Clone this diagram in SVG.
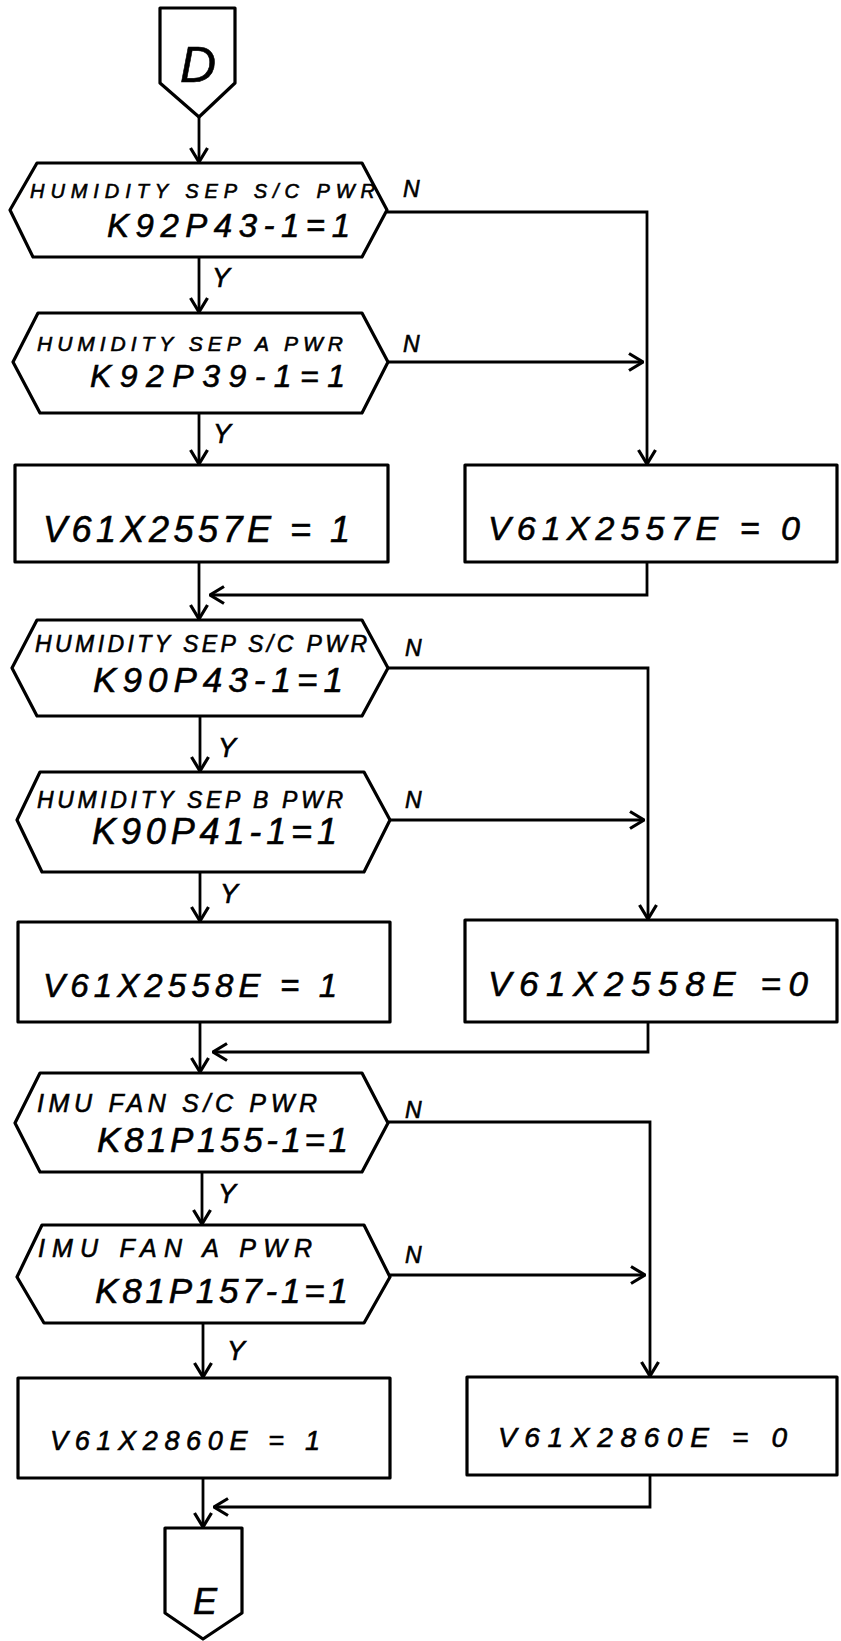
<svg xmlns="http://www.w3.org/2000/svg" width="841" height="1641" viewBox="0 0 841 1641">
<defs>
<style>
.shape{fill:#fff;stroke:#000;stroke-width:3.2;stroke-linejoin:round}
.conn{fill:none;stroke:#000;stroke-width:2.8;stroke-linejoin:miter}
.t{font-family:"Liberation Sans",Arial,sans-serif;font-style:italic;fill:#000;stroke:#000;stroke-width:0.6}
.lbl{font-size:27px}
</style>
<marker id="ah" viewBox="0 0 16 20" refX="15" refY="10" markerWidth="16" markerHeight="20" markerUnits="userSpaceOnUse" orient="auto">
<path d="M1,1.5 L15,10 L1,18.5" fill="none" stroke="#000" stroke-width="3.2"/>
</marker>
</defs>
<rect width="841" height="1641" fill="#fff"/>

<g id="connectors">
<path class="conn" d="M199,117 V162" marker-end="url(#ah)"/>
<path class="conn" d="M199,257 V312" marker-end="url(#ah)"/>
<path class="conn" d="M199,413 V464" marker-end="url(#ah)"/>
<path class="conn" d="M387,212 H647 V464" marker-end="url(#ah)"/>
<path class="conn" d="M388,362 H643" marker-end="url(#ah)"/>
<path class="conn" d="M199,562 V619" marker-end="url(#ah)"/>
<path class="conn" d="M647,562 V595 H210" marker-end="url(#ah)"/>
<path class="conn" d="M200,716 V771" marker-end="url(#ah)"/>
<path class="conn" d="M388,668 H648 V919" marker-end="url(#ah)"/>
<path class="conn" d="M390,820 H644" marker-end="url(#ah)"/>
<path class="conn" d="M200,872 V921" marker-end="url(#ah)"/>
<path class="conn" d="M200,1022 V1072" marker-end="url(#ah)"/>
<path class="conn" d="M648,1022 V1052 H213" marker-end="url(#ah)"/>
<path class="conn" d="M202,1172 V1224" marker-end="url(#ah)"/>
<path class="conn" d="M388,1122 H650 V1376" marker-end="url(#ah)"/>
<path class="conn" d="M390,1275 H645" marker-end="url(#ah)"/>
<path class="conn" d="M203,1323 V1377" marker-end="url(#ah)"/>
<path class="conn" d="M203,1478 V1527" marker-end="url(#ah)"/>
<path class="conn" d="M650,1475 V1507 H214" marker-end="url(#ah)"/>
<text class="t lbl" x="212" y="287">Y</text>
<text class="t lbl" x="213" y="443">Y</text>
<text class="t lbl" x="218" y="757">Y</text>
<text class="t lbl" x="220" y="903">Y</text>
<text class="t lbl" x="218" y="1203">Y</text>
<text class="t lbl" x="227" y="1360">Y</text>
<text class="t" x="403" y="197" font-size="23">N</text>
<text class="t" x="403" y="352" font-size="23">N</text>
<text class="t" x="405" y="656" font-size="23">N</text>
<text class="t" x="405" y="808" font-size="23">N</text>
<text class="t" x="405" y="1118" font-size="23">N</text>
<text class="t" x="405" y="1263" font-size="23">N</text>
</g>

<g id="start-D">
<polygon class="shape" points="160,8 235,8 235,83 199,117 160,83"/>
<text class="t" x="198" y="82" font-size="50" font-style="normal" stroke-width="1.5" text-anchor="middle">D</text>
</g>

<g id="dec1">
<polygon class="shape" points="37,163 362,163 387,210 362,257 33,257 10,210"/>
<text class="t" x="30" y="198" font-size="20" textLength="345" lengthAdjust="spacing">HUMIDITY SEP S/C PWR</text>
<text class="t" x="107" y="237" font-size="33" textLength="243" lengthAdjust="spacing">K92P43-1=1</text>
</g>

<g id="dec2">
<polygon class="shape" points="38,313 362,313 388,362 362,413 40,413 13,362"/>
<text class="t" x="37" y="351" font-size="21" textLength="306" lengthAdjust="spacing">HUMIDITY SEP A PWR</text>
<text class="t" x="90" y="387" font-size="32" textLength="255" lengthAdjust="spacing">K92P39-1=1</text>
</g>

<g id="box1">
<rect class="shape" x="15" y="465" width="373" height="97"/>
<text class="t" x="43" y="542" font-size="36" textLength="307" lengthAdjust="spacing">V61X2557E = 1</text>
</g>

<g id="box1n">
<rect class="shape" x="465" y="465" width="372" height="97"/>
<text class="t" x="488" y="540" font-size="34" textLength="312" lengthAdjust="spacing">V61X2557E = 0</text>
</g>

<g id="dec3">
<polygon class="shape" points="37,620 362,620 388,668 362,716 37,716 12,668"/>
<text class="t" x="35" y="652" font-size="23" textLength="332" lengthAdjust="spacing">HUMIDITY SEP S/C PWR</text>
<text class="t" x="93" y="692" font-size="35" textLength="250" lengthAdjust="spacing">K90P43-1=1</text>
</g>

<g id="dec4">
<polygon class="shape" points="40,772 364,772 390,820 364,872 42,872 17,820"/>
<text class="t" x="37" y="808" font-size="23" textLength="306" lengthAdjust="spacing">HUMIDITY SEP B PWR</text>
<text class="t" x="92" y="844" font-size="36" textLength="245" lengthAdjust="spacing">K90P41-1=1</text>
</g>

<g id="box2">
<rect class="shape" x="18" y="922" width="372" height="100"/>
<text class="t" x="43" y="997" font-size="33" textLength="294" lengthAdjust="spacing">V61X2558E = 1</text>
</g>

<g id="box2n">
<rect class="shape" x="465" y="920" width="372" height="102"/>
<text class="t" x="488" y="996" font-size="35" textLength="320" lengthAdjust="spacing">V61X2558E =0</text>
</g>

<g id="dec5">
<polygon class="shape" points="40,1073 362,1073 388,1123 362,1172 40,1172 15,1123"/>
<text class="t" x="37" y="1112" font-size="25" textLength="280" lengthAdjust="spacing">IMU FAN S/C PWR</text>
<text class="t" x="97" y="1152" font-size="35" textLength="251" lengthAdjust="spacing">K81P155-1=1</text>
</g>

<g id="dec6">
<polygon class="shape" points="42,1225 364,1225 390,1277 364,1323 44,1323 17,1277"/>
<text class="t" x="38" y="1257" font-size="25" textLength="274" lengthAdjust="spacing">IMU FAN A PWR</text>
<text class="t" x="95" y="1303" font-size="35" textLength="253" lengthAdjust="spacing">K81P157-1=1</text>
</g>

<g id="box3">
<rect class="shape" x="18" y="1378" width="372" height="100"/>
<text class="t" x="50" y="1450" font-size="27" textLength="270" lengthAdjust="spacing">V61X2860E = 1</text>
</g>

<g id="box3n">
<rect class="shape" x="467" y="1377" width="370" height="98"/>
<text class="t" x="498" y="1447" font-size="28" textLength="289" lengthAdjust="spacing">V61X2860E = 0</text>
</g>

<g id="end-E">
<polygon class="shape" points="165,1528 242,1528 242,1613 203,1639 165,1613"/>
<text class="t" x="205" y="1614" font-size="36" stroke-width="1" text-anchor="middle">E</text>
</g>
</svg>
